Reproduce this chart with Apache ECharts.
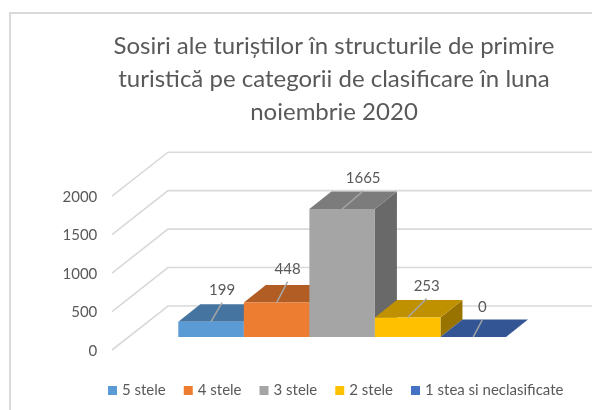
<!DOCTYPE html>
<html>
<head>
    <meta charset="utf-8">
    <script src="https://cdn.jsdelivr.net/npm/echarts@6/dist/echarts.min.js"></script>
    <style>
        html, body { margin: 0; padding: 0; background: #fff; }
    </style>
</head>

<body>
    <div id="main" style="width: 592px;height:410px;"></div>
    <script type="text/javascript">
        var chartTitle = 'Sosiri ale turiștilor în structurile de primire\nturistică pe categorii de clasificare în luna\nnoiembrie 2020';
        var categories = ['5 stele', '4 stele', '3 stele', '2 stele', '1 stea si neclasificate'];
        var values = [199, 448, 1665, 253, 0];
        var yTicks = [0, 500, 1000, 1500, 2000];

        // culori: fata, capac, lateral
        var faceColors = ['#5b9bd5', '#ed7d31', '#a5a5a5', '#ffc000', '#4472c4'];
        var topColors = ['#44749f', '#b15d24', '#7c7c7c', '#bf9000', '#335593'];
        var sideColors = ['#366085', '#8e4a1d', '#696969', '#997300', '#29447a'];

        // adancimea barei si a podelei, in pixeli
        var barDepth = [22, -17.5];
        var wallFront = [-66.3, 13];
        var wallBack = [-10.3, -31];
        // capatul liniei de la eticheta, fata de centrul capacului din fata
        var leaderDx = [11, 11, 21, 19, 9];
        var leaderDy = [-19, -21, -18, -19, -17];

        var textColor = '#595959';
        var fontName = 'Lato';

        function renderBar(params, api) {
            var idx = api.value(0);
            var val = api.value(1);
            var band = api.size([1, 0])[0];
            var top = api.coord([idx, val]);
            var base = api.coord([idx, 0]);
            var x0 = top[0] - band / 2;
            var x1 = top[0] + band / 2;
            var dx = barDepth[0];
            var dy = barDepth[1];
            var tipX = top[0] + leaderDx[idx];
            var tipY = top[1] + leaderDy[idx];
            return {
                type: 'group',
                children: [
                    {
                        type: 'polygon',
                        shape: {points: [[x1, base[1]], [x1 + dx, base[1] + dy], [x1 + dx, top[1] + dy], [x1, top[1]]]},
                        style: {fill: sideColors[idx]}
                    },
                    {
                        type: 'polygon',
                        shape: {points: [[x0, top[1]], [x1, top[1]], [x1 + dx, top[1] + dy], [x0 + dx, top[1] + dy]]},
                        style: {fill: topColors[idx]}
                    },
                    {
                        type: 'rect',
                        shape: {x: x0, y: top[1], width: band, height: base[1] - top[1]},
                        style: {fill: faceColors[idx]}
                    },
                    {
                        type: 'line',
                        shape: {x1: top[0], y1: top[1], x2: tipX, y2: tipY},
                        style: {stroke: '#a6a6a6', lineWidth: 1.5}
                    },
                    {
                        type: 'text',
                        style: {
                            x: tipX,
                            y: tipY - 12.5,
                            text: String(val),
                            textAlign: 'center',
                            textVerticalAlign: 'middle',
                            fill: textColor,
                            font: '15px ' + fontName
                        }
                    }
                ]
            };
        }

        function renderWallLine(params, api) {
            var band = api.size([1, 0])[0];
            var p = api.coord([0, api.value(0)]);
            var x = p[0] - band / 2;
            return {
                type: 'polyline',
                shape: {points: [
                    [x + wallFront[0], p[1] + wallFront[1]],
                    [x + wallBack[0], p[1] + wallBack[1]],
                    [592, p[1] + wallBack[1]]
                ]},
                style: {fill: 'none', stroke: '#d9d9d9', lineWidth: 1.6}
            };
        }

        var series = [{
            name: 'wall',
            type: 'custom',
            xAxisIndex: 0,
            yAxisIndex: 0,
            renderItem: renderWallLine,
            encode: {y: 0},
            data: yTicks.map(function (t) { return [t]; }),
            z: 1
        }];
        categories.forEach(function (name, i) {
            series.push({
                name: name,
                type: 'custom',
                xAxisIndex: 0,
                yAxisIndex: 0,
                renderItem: renderBar,
                itemStyle: {color: faceColors[i]},
                encode: {x: 0, y: 1},
                data: [[i, values[i]]],
                z: 2
            });
        });

        var option = {
            animation: false,
            title: {
                text: chartTitle,
                left: 329,
                top: 25,
                textAlign: 'center',
                textStyle: {
                    color: textColor,
                    fontFamily: fontName,
                    fontWeight: 'normal',
                    fontSize: 24,
                    lineHeight: 33
                }
            },
            legend: {
                data: categories,
                left: 103,
                top: 378,
                itemWidth: 9,
                itemHeight: 9,
                itemGap: 18,
                icon: 'rect',
                textStyle: {color: textColor, fontFamily: fontName, fontSize: 15}
            },
            grid: [
                {left: 178.3, width: 327.7, top: 183.2, height: 153.8},
                {left: 178.3, width: 327.7, top: 197, height: 153.8}
            ],
            xAxis: [
                {type: 'category', gridIndex: 0, data: categories, show: false},
                {type: 'category', gridIndex: 1, data: categories, show: false}
            ],
            yAxis: [
                {type: 'value', gridIndex: 0, min: 0, max: 2000, interval: 500, show: false},
                {
                    type: 'value',
                    gridIndex: 1,
                    min: 0,
                    max: 2000,
                    interval: 500,
                    axisLine: {show: false},
                    axisTick: {show: false},
                    splitLine: {show: false},
                    axisLabel: {
                        margin: 81,
                        color: textColor,
                        fontFamily: fontName,
                        fontSize: 15,
                        formatter: function (v) { return String(v); }
                    }
                }
            ],
            graphic: [
                {
                    type: 'polyline',
                    silent: true,
                    shape: {points: [[10, 410], [10, 13], [592, 13]]},
                    style: {fill: 'none', stroke: '#d9d9d9', lineWidth: 2}
                }
            ],
            series: series
        };

        var myChart = echarts.init(document.getElementById('main'));
        myChart.setOption(option);
    </script>
</body>

</html>
